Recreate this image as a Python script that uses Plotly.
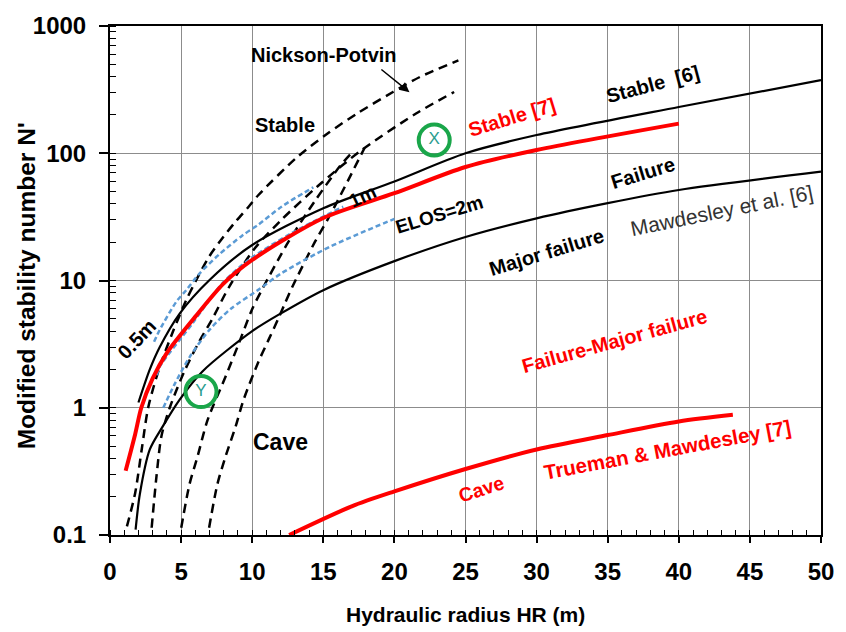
import plotly.graph_objects as go

# ---- data ----
stable6_x = [2.0, 2.8, 3.5, 4.9, 7.0, 10.0, 15.0, 20.0, 25.0, 30.0, 40.0, 50.0]
stable6_y = [1.1, 2.0, 3.0, 5.5, 10.1, 19.0, 37.0, 60.0, 100.0, 139.0, 231.0, 375.0]

failure6_x = [1.8, 2.1, 2.8, 3.7, 4.9, 6.5, 10.0, 12.0, 15.0, 20.0, 25.0, 30.0, 35.0, 40.0, 50.0]
failure6_y = [0.11, 0.21, 0.47, 0.71, 1.16, 1.93, 4.0, 5.5, 8.4, 14.2, 22.0, 30.8, 40.5, 51.4, 71.6]

stable7_x = [1.1, 1.77, 2.2, 3.0, 4.0, 6.0, 8.0, 10.0, 15.0, 20.0, 25.0, 30.0, 40.0]
stable7_y = [0.32, 0.62, 1.0, 1.7, 2.7, 5.2, 9.5, 14.5, 31.0, 48.5, 78.0, 106.0, 171.0]

cave7_x = [12.6, 17.0, 20.0, 25.0, 30.0, 35.0, 40.0, 43.8]
cave7_y = [0.1, 0.168, 0.22, 0.33, 0.47, 0.61, 0.78, 0.88]

np1_x = [1.19, 1.77, 2.23, 2.7, 3.5, 4.4, 5.36, 6.05, 6.97, 7.9, 8.83, 9.75, 10.44, 13.2, 15.3, 17.4, 19.9, 21.8, 24.5]
np1_y = [0.117, 0.214, 0.47, 1.02, 2.1, 3.9, 7.0, 10.0, 15.4, 21.5, 29.0, 38.0, 47.0, 94.0, 143.0, 206.0, 303.0, 398.0, 537.0]

np2_x = [2.93, 3.27, 3.62, 4.2, 5.2, 6.2, 7.2, 8.4, 10.2, 12.06, 14.6, 17.6, 21.55, 24.2]
np2_y = [0.114, 0.29, 0.6, 1.0, 1.9, 3.2, 5.0, 9.0, 18.0, 30.0, 55.0, 104.0, 206.0, 303.0]

np3_x = [5.01, 5.59, 6.16, 6.86, 8.13, 9.06, 9.98, 10.67, 12.53, 14.4, 16.2, 16.9]
np3_y = [0.114, 0.25, 0.415, 0.8, 1.76, 3.2, 5.9, 8.4, 20.0, 42.0, 80.0, 98.0]

np4_x = [6.97, 7.55, 8.13, 8.83, 9.4, 10.44, 11.14, 11.83, 12.3, 12.8, 14.4, 15.5, 17.9]
np4_y = [0.114, 0.25, 0.415, 0.71, 1.16, 2.3, 3.4, 5.0, 6.6, 8.8, 20.0, 33.0, 110.0]

elos05_x = [3.1, 3.5, 4.66, 5.36, 6.28, 7.67, 9.29, 10.44, 12.06, 14.3]
elos05_y = [3.3, 4.1, 6.8, 8.4, 11.3, 16.0, 22.5, 27.5, 38.0, 54.0]

elos1_x = [3.3, 3.5, 5.8, 7.9, 9.75, 12.75, 16.4]
elos1_y = [1.8, 2.1, 4.6, 9.5, 14.5, 23.5, 38.0]

elos2_x = [3.75, 4.5, 5.6, 7.0, 8.5, 10.4, 12.06, 15.5, 20.0]
elos2_y = [1.0, 1.5, 2.5, 4.1, 6.0, 8.4, 11.4, 18.5, 30.5]

point_labels = ["X", "Y"]
point_x = [22.8, 6.4]
point_y = [127.0, 1.34]

x_ticks = [0, 5, 10, 15, 20, 25, 30, 35, 40, 45, 50]
y_ticks = [0.1, 1, 10, 100, 1000]
y_tick_text = ["0.1", "1", "10", "100", "1000"]

# ---- figure ----
fig = go.Figure()

BLACK = "#000000"
RED = "#ff0000"
BLUE = "#5b9bd5"
GREEN = "#1aa64a"

def add_line(x, y, color, width, dash="solid"):
    fig.add_trace(go.Scatter(x=x, y=y, mode="lines",
                             line=dict(color=color, width=width, dash=dash,
                                       shape="spline", smoothing=0.8),
                             hoverinfo="skip", showlegend=False))

for xs, ys in [(np1_x, np1_y), (np2_x, np2_y), (np3_x, np3_y), (np4_x, np4_y)]:
    add_line(xs, ys, BLACK, 2.5, "9px,6px")
for xs, ys in [(elos05_x, elos05_y), (elos1_x, elos1_y), (elos2_x, elos2_y)]:
    add_line(xs, ys, BLUE, 2.5, "5px,3px")
add_line(stable6_x, stable6_y, BLACK, 2.2)
add_line(failure6_x, failure6_y, BLACK, 2.2)
add_line(stable7_x, stable7_y, RED, 4)
add_line(cave7_x, cave7_y, RED, 4)

fig.add_trace(go.Scatter(x=point_x, y=point_y, mode="markers+text",
                         text=point_labels, textposition="middle center",
                         textfont=dict(family="Liberation Sans", size=17, color="#2a9d8f"),
                         marker=dict(symbol="circle-open", size=31,
                                     line=dict(color=GREEN, width=4), color=GREEN),
                         hoverinfo="skip", showlegend=False))

def note(text, x, ly, angle=0, color=BLACK, size=20, bold=True, family="Liberation Sans"):
    t = "<b>%s</b>" % text if bold else text
    fig.add_annotation(x=x, y=ly, text=t, showarrow=False, textangle=angle,
                       font=dict(family=family, size=size, color=color),
                       xanchor="center", yanchor="middle")

note("Nickson-Potvin", 15.07, 2.77, 0, size=20)
note("Stable", 12.3, 2.221, 0, size=20)
note("Stable  [6]", 38.2, 2.543, -15, size=20)
note("Stable [7]", 28.3, 2.281, -17, color=RED, size=20)
note("Failure", 37.46, 1.847, -17, size=20)
note("Mawdesley et al. [6]", 43.01, 1.548, -11.5, color="#333333", size=21, bold=False)
note("Major failure", 30.73, 1.227, -17, size=20)
note("ELOS=2m", 23.14, 1.521, -17, size=19)
note("1m", 17.73, 1.658, -25, size=19)
note("0.5m", 1.89, 0.539, -47, size=20)
note("Cave", 12.02, -0.272, 0, size=23)
note("Failure-Major failure", 35.47, 0.521, -15.5, color=RED, size=20)
note("Trueman &amp; Mawdesley [7]", 39.17, -0.329, -10.5, color=RED, size=20.5)
note("Cave", 26.1, -0.638, -18, color=RED, size=19.5)

# arrow for Nickson-Potvin
fig.add_annotation(x=21.06, y=2.48, ax=18.98, ay=2.668, xref="x", yref="y",
                   axref="x", ayref="y", showarrow=True, arrowhead=2,
                   arrowsize=1.3, arrowwidth=1.5, arrowcolor=BLACK, text="")

# axis titles placed as in the reference
fig.add_annotation(xref="paper", yref="paper", x=-0.1173, y=0.4897,
                   text="<b>Modified stability number N'</b>", showarrow=False,
                   textangle=-90, font=dict(family="Liberation Sans", size=24.5, color=BLACK),
                   xanchor="center", yanchor="middle")
fig.add_annotation(xref="paper", yref="paper", x=0.5, y=-0.156,
                   text="<b>Hydraulic radius HR (m)</b>", showarrow=False,
                   font=dict(family="Liberation Sans", size=21, color=BLACK),
                   xanchor="center", yanchor="middle")

fig.update_layout(
    width=846, height=632,
    margin=dict(l=109.5, r=16, t=26, b=96.5),
    paper_bgcolor="white", plot_bgcolor="white",
    font=dict(family="Liberation Sans", color=BLACK),
    showlegend=False,
)

fig.update_xaxes(
    range=[0, 50], tickvals=x_ticks, ticks="outside", ticklen=6, tickwidth=1.5,
    tickcolor=BLACK, showgrid=True, gridcolor="#8c8c8c", gridwidth=1.3,
    showline=True, linecolor=BLACK, linewidth=2, mirror=True, zeroline=False,
    tickfont=dict(family="Liberation Sans", size=24, color=BLACK, weight="bold"),
    ticklabelstandoff=8,
    minor=dict(ticks="inside", ticklen=5, tickwidth=1.2, tickcolor=BLACK, dtick=1, showgrid=False),
)

fig.update_yaxes(
    type="log", range=[-1, 3], tickvals=y_ticks, ticktext=y_tick_text,
    ticks="outside", ticklen=9, tickwidth=1.5, tickcolor=BLACK,
    showgrid=True, gridcolor="#8c8c8c", gridwidth=1.3,
    showline=True, linecolor=BLACK, linewidth=2, mirror=True, zeroline=False,
    tickfont=dict(family="Liberation Sans", size=24, color=BLACK, weight="bold"),
    ticklabelstandoff=8,
    minor=dict(ticks="inside", ticklen=6, tickwidth=1.2, tickcolor=BLACK, dtick="D1", showgrid=False),
)

fig.write_html("out.html")
